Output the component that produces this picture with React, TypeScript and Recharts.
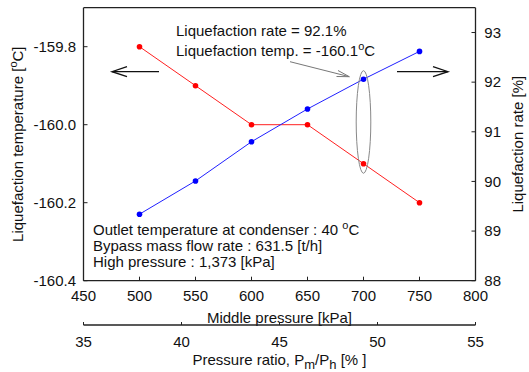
import { Line, LineChart, ReferenceDot, ReferenceLine, XAxis, YAxis } from 'recharts';

const middlePressure = [500, 550, 600, 650, 700, 750];
const pressureRatio = [37.9, 40.8, 43.6, 46.5, 49.4, 52.2];
const liquefactionTemp = [-159.8, -159.9, -160.0, -160.0, -160.1, -160.2];
const liquefactionRate = [89.34, 90.01, 90.8, 91.46, 92.06, 92.62];

const pressureTicks = [450, 500, 550, 600, 650, 700, 750, 800];
const ratioTicks = [35, 40, 45, 50, 55];
const tempTicks = [-160.4, -160.2, -160.0, -159.8];
const rateTicks = [88, 89, 90, 91, 92, 93];

const FONT = '"Liberation Sans", Arial, sans-serif';
const AXIS = '#222';

const data = middlePressure.map((p, i) => ({
  p,
  ratio: pressureRatio[i],
  temp: liquefactionTemp[i],
  rate: liquefactionRate[i],
}));

const tickStyle = { fill: '#111', fontSize: 15, fontFamily: FONT };

const Ellipse = (props: any) => (
  <ellipse cx={props.cx} cy={props.cy} rx={7.3} ry={51.3} fill="none" stroke="#888" strokeWidth={1} />
);

const Annotations = () => (
  <g fontFamily={FONT} fill="#111">
    {/* axis direction arrows */}
    <g stroke="#111" strokeWidth={1.3} fill="none">
      <line x1={112} y1={71.7} x2={159} y2={71.7} />
      <polyline points="127,66.7 112,71.7 127,76.7" />
      <line x1={397} y1={71.7} x2={448} y2={71.7} />
      <polyline points="433,66.7 448,71.7 433,76.7" />
    </g>
    {/* callout arrow */}
    <g stroke="#777" strokeWidth={1} fill="none">
      <line x1={290} y1={61.7} x2={349.3} y2={76.7} />
      <polyline points="338,70.5 349.3,76.7 336.5,76.5" />
    </g>

    <text x={176} y={35.5} fontSize={15}>Liquefaction rate = 92.1%</text>
    <text x={176} y={55.5} fontSize={15}>
      Liquefaction temp. = -160.1<tspan fontSize={11} dy={-6}>o</tspan>
      <tspan dy={6}>C</tspan>
    </text>

    <text x={93} y={235} fontSize={15}>
      Outlet temperature at condenser : 40 <tspan fontSize={11} dy={-6}>o</tspan>
      <tspan dy={6}>C</tspan>
    </text>
    <text x={93} y={251} fontSize={15}>Bypass mass flow rate : 631.5 [t/h]</text>
    <text x={93} y={267.3} fontSize={15}>High pressure : 1,373 [kPa]</text>

    <text x={279.5} y={322.7} fontSize={15} textAnchor="middle">Middle pressure [kPa]</text>
    <text x={279.5} y={365} fontSize={15} textAnchor="middle">
      Pressure ratio, P<tspan fontSize={13} dy={4}>m</tspan>
      <tspan dy={-4}>/P</tspan>
      <tspan fontSize={13} dy={4}>h</tspan>
      <tspan dy={-4}> [% ]</tspan>
    </text>

    <text x={23} y={144.2} fontSize={15} textAnchor="middle" transform="rotate(-90 23 144.2)">
      Liquefaction temperature [<tspan fontSize={11} dy={-6}>o</tspan>
      <tspan dy={6}>C]</tspan>
    </text>
    <text x={523} y={144.2} fontSize={15} textAnchor="middle" transform="rotate(-90 523 144.2)">
      Liquefaction rate [%]
    </text>
  </g>
);

export default function App() {
  return (
    <div style={{ position: 'absolute', left: 0, top: 0, width: 529, height: 372, background: '#fff', fontFamily: FONT }}>
      <LineChart width={529} height={372} data={data} margin={{ top: 7.7, right: 13.5, bottom: 0, left: 23.5 }}>
        <XAxis
          xAxisId="p"
          type="number"
          dataKey="p"
          domain={[450, 800]}
          ticks={pressureTicks}
          interval={0}
          height={44.3}
          tickSize={-4}
          tickMargin={13.6}
          tick={tickStyle}
          axisLine={{ stroke: AXIS, strokeWidth: 1.3 }}
          tickLine={{ stroke: AXIS }}
        />
        <XAxis
          xAxisId="ratio"
          type="number"
          dataKey="ratio"
          domain={[35, 55]}
          allowDataOverflow
          ticks={ratioTicks}
          interval={0}
          height={47}
          tickSize={-3}
          tickMargin={14}
          tick={tickStyle}
          axisLine={{ stroke: AXIS, strokeWidth: 1.3 }}
          tickLine={{ stroke: AXIS }}
        />
        <YAxis
          yAxisId="t"
          orientation="left"
          type="number"
          domain={[-160.4, -159.7]}
          allowDataOverflow
          ticks={tempTicks}
          interval={0}
          width={60}
          tickSize={-4}
          tickMargin={11.5}
          tickFormatter={(v: number) => v.toFixed(1)}
          tick={tickStyle}
          axisLine={{ stroke: AXIS, strokeWidth: 1.3 }}
          tickLine={{ stroke: AXIS }}
        />
        <YAxis
          yAxisId="r"
          orientation="right"
          type="number"
          domain={[88, 93.5]}
          allowDataOverflow
          ticks={rateTicks}
          interval={0}
          width={40}
          tickSize={-4}
          tickMargin={12.8}
          tick={tickStyle}
          axisLine={{ stroke: AXIS, strokeWidth: 1.3 }}
          tickLine={{ stroke: AXIS }}
        />
        <ReferenceLine xAxisId="p" yAxisId="t" y={-159.7} stroke={AXIS} strokeWidth={1.3} />
        {/* invisible series so the pressure-ratio axis gets a scale */}
        <Line
          xAxisId="ratio"
          yAxisId="r"
          dataKey="rate"
          stroke="none"
          dot={false}
          activeDot={false}
          legendType="none"
          isAnimationActive={false}
        />
        <Line
          xAxisId="p"
          yAxisId="t"
          dataKey="temp"
          type="linear"
          stroke="#ff2020"
          strokeWidth={1}
          dot={{ r: 2.8, fill: '#ff0000', stroke: '#ff0000', strokeWidth: 0 }}
          isAnimationActive={false}
        />
        <Line
          xAxisId="p"
          yAxisId="r"
          dataKey="rate"
          type="linear"
          stroke="#2020ff"
          strokeWidth={1}
          dot={{ r: 2.8, fill: '#0000ff', stroke: '#0000ff', strokeWidth: 0 }}
          isAnimationActive={false}
        />
        <ReferenceDot xAxisId="p" yAxisId="t" x={700} y={-159.993} shape={Ellipse} />
        <Annotations />
      </LineChart>
    </div>
  );
}
